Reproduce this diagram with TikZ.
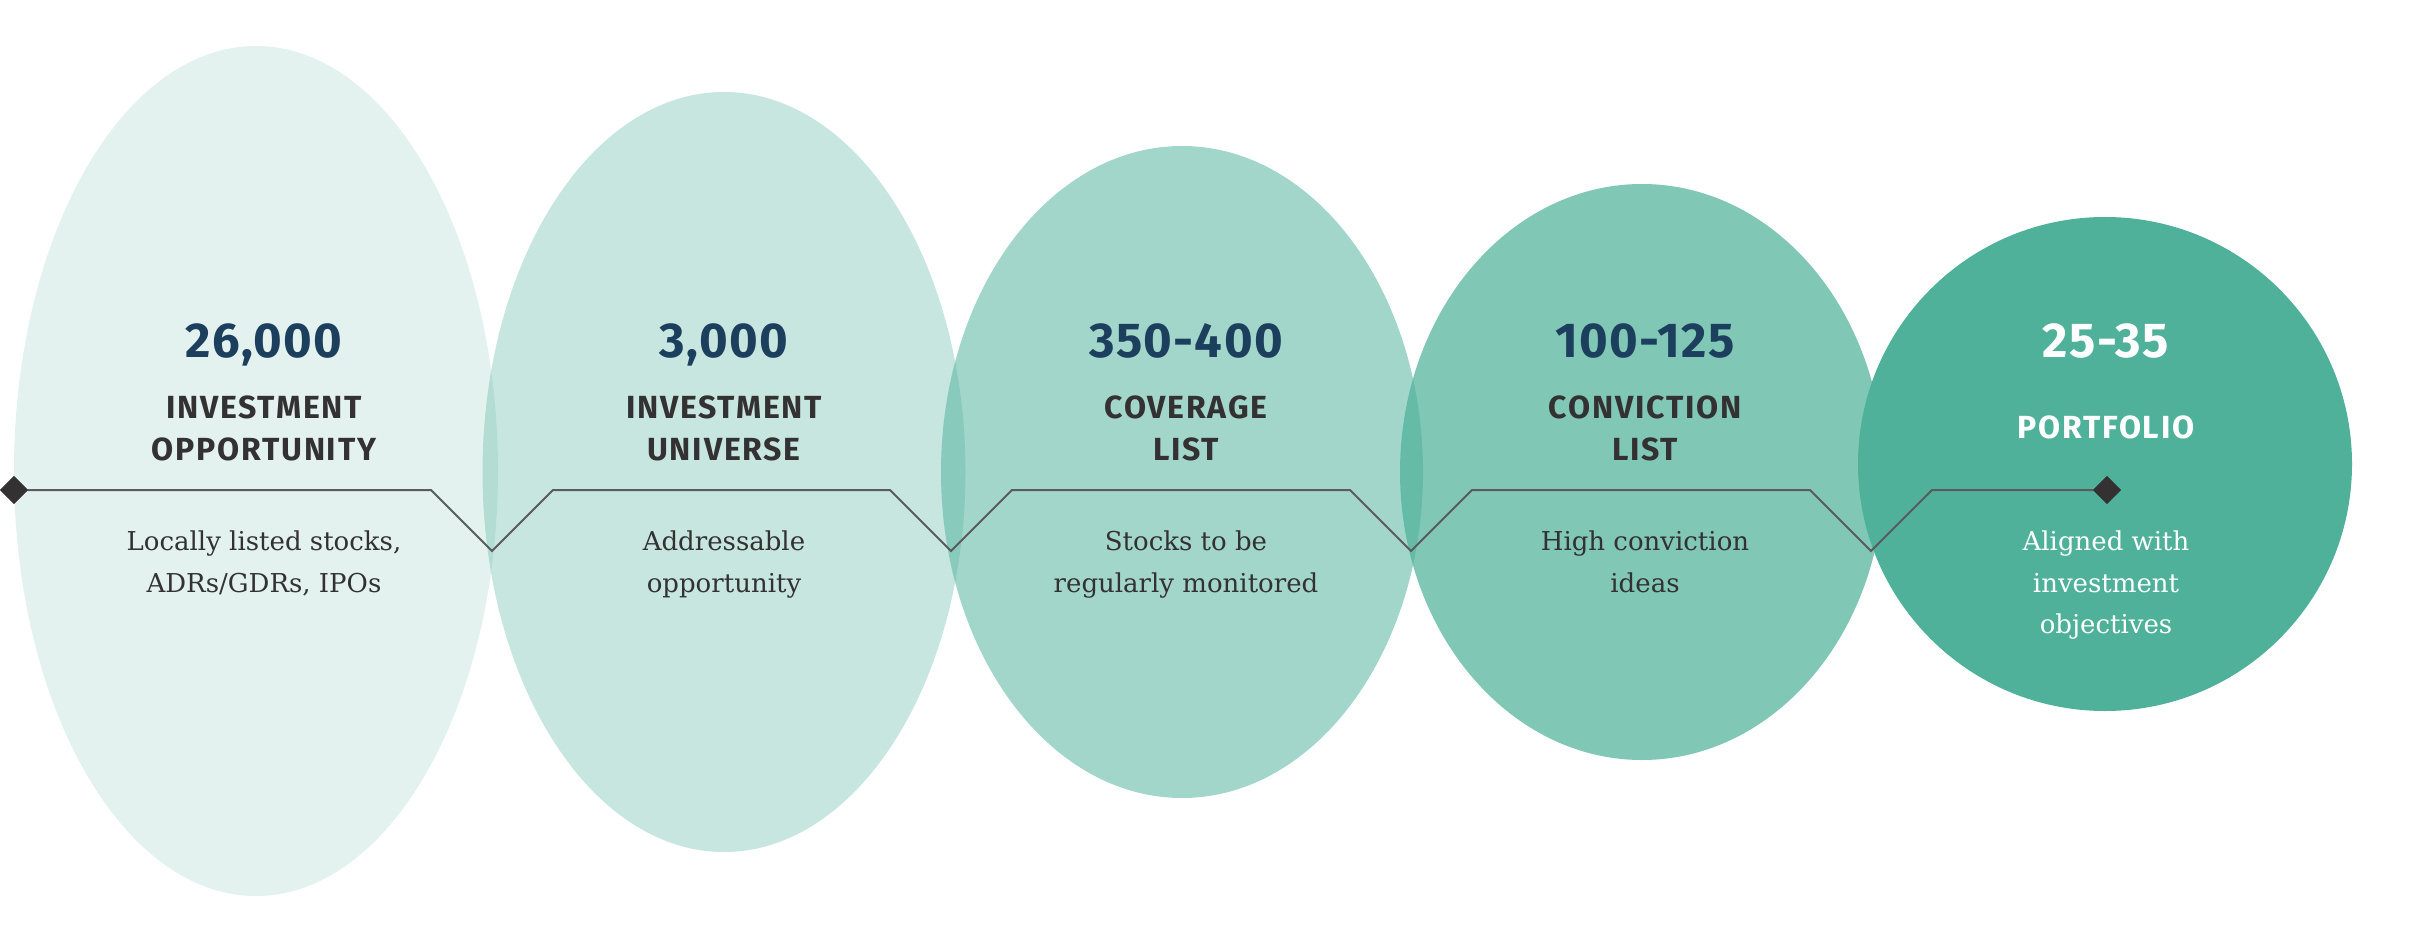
\documentclass[tikz,border=0pt]{standalone}
\usepackage{fontspec}
\usetikzlibrary{shapes.geometric}
\newfontfamily\headfont{Fira Sans}[LetterSpace=5.5]
\newfontfamily\bignumfont{Fira Sans}[LetterSpace=3]
\newfontfamily\descfont{DejaVu Serif}
\definecolor{teal}{HTML}{4FB19A}
\definecolor{navy}{HTML}{1D3F5E}
\definecolor{ink}{HTML}{333132}
\definecolor{wire}{HTML}{5B5A5C}
\tikzset{
  x=1pt, y=-1pt,
  blob/.style={ellipse, fill=teal, draw=none, inner sep=0pt},
  numtxt/.style={anchor=base, font=\bignumfont\bfseries\fontsize{49}{49}\selectfont, text=navy},
  labtxt/.style={anchor=base, font=\headfont\bfseries\fontsize{32}{32}\selectfont, text=ink},
  desctxt/.style={anchor=base, font=\descfont\fontsize{26}{26}\selectfont, text=ink},
  tip/.style={diamond, fill=ink, inner sep=0pt, minimum size=28pt},
  zig/.style={draw=wire, line width=2pt}
}
\begin{document}
\begin{tikzpicture}
\useasboundingbox (0,0) rectangle (2418,944);
% ellipses
\node[blob, fill opacity=0.16, minimum width=484pt, minimum height=850pt] (e1) at (256,471) {};
\node[blob, fill opacity=0.32, minimum width=483pt, minimum height=760pt] (e2) at (724,472) {};
\node[blob, fill opacity=0.52, minimum width=482pt, minimum height=652pt] (e3) at (1182,472) {};
\node[blob, fill opacity=0.72, minimum width=484pt, minimum height=576pt] (e4) at (1642,472) {};
\node[blob, fill opacity=1, minimum width=494pt, minimum height=494pt] (e5) at (2105,464) {};
% zigzag connector
\node[tip] (d0) at (14,490) {};
\node[tip] (d1) at (2107,490) {};
\coordinate (a1) at (431,490); \coordinate (b1) at (492,551); \coordinate (c1) at (553,490);
\coordinate (a2) at (890,490); \coordinate (b2) at (951,551); \coordinate (c2) at (1012,490);
\coordinate (a3) at (1350,490); \coordinate (b3) at (1411,551); \coordinate (c3) at (1472,490);
\coordinate (a4) at (1810,490); \coordinate (b4) at (1871,551); \coordinate (c4) at (1932,490);
\draw[zig] (d0.center) -- (a1) -- (b1) -- (c1) -- (a2) -- (b2) -- (c2) -- (a3) -- (b3) -- (c3) -- (a4) -- (b4) -- (c4) -- (d1.center);
\node[tip] at (d0) {};
\node[tip] at (d1) {};
% column 1
\node[numtxt] (n1) at (264,357) {26,000};
\node[labtxt] (l1a) at (264,418) {INVESTMENT};
\node[labtxt] (l1b) at (264,460) {OPPORTUNITY};
\node[desctxt] (t1a) at (264,550) {Locally listed stocks,};
\node[desctxt] (t1b) at (264,592) {ADRs/GDRs, IPOs};
% column 2
\node[numtxt] (n2) at (724,357) {3,000};
\node[labtxt] (l2a) at (724,418) {INVESTMENT};
\node[labtxt] (l2b) at (724,460) {UNIVERSE};
\node[desctxt] (t2a) at (724,550) {Addressable};
\node[desctxt] (t2b) at (724,592) {opportunity};
% column 3
\node[numtxt] (n3) at (1186,357) {350-400};
\node[labtxt] (l3a) at (1186,418) {COVERAGE};
\node[labtxt] (l3b) at (1186,460) {LIST};
\node[desctxt] (t3a) at (1186,550) {Stocks to be};
\node[desctxt] (t3b) at (1186,592) {regularly monitored};
% column 4
\node[numtxt] (n4) at (1645,357) {100-125};
\node[labtxt] (l4a) at (1645,418) {CONVICTION};
\node[labtxt] (l4b) at (1645,460) {LIST};
\node[desctxt] (t4a) at (1645,550) {High conviction};
\node[desctxt] (t4b) at (1645,592) {ideas};
% column 5
\node[numtxt, text=white] (n5) at (2106,357) {25-35};
\node[labtxt, text=white] (l5) at (2106,438) {PORTFOLIO};
\node[desctxt, text=white] (t5a) at (2106,550) {Aligned with};
\node[desctxt, text=white] (t5b) at (2106,592) {investment};
\node[desctxt, text=white] (t5c) at (2106,633) {objectives};
\end{tikzpicture}
\end{document}
